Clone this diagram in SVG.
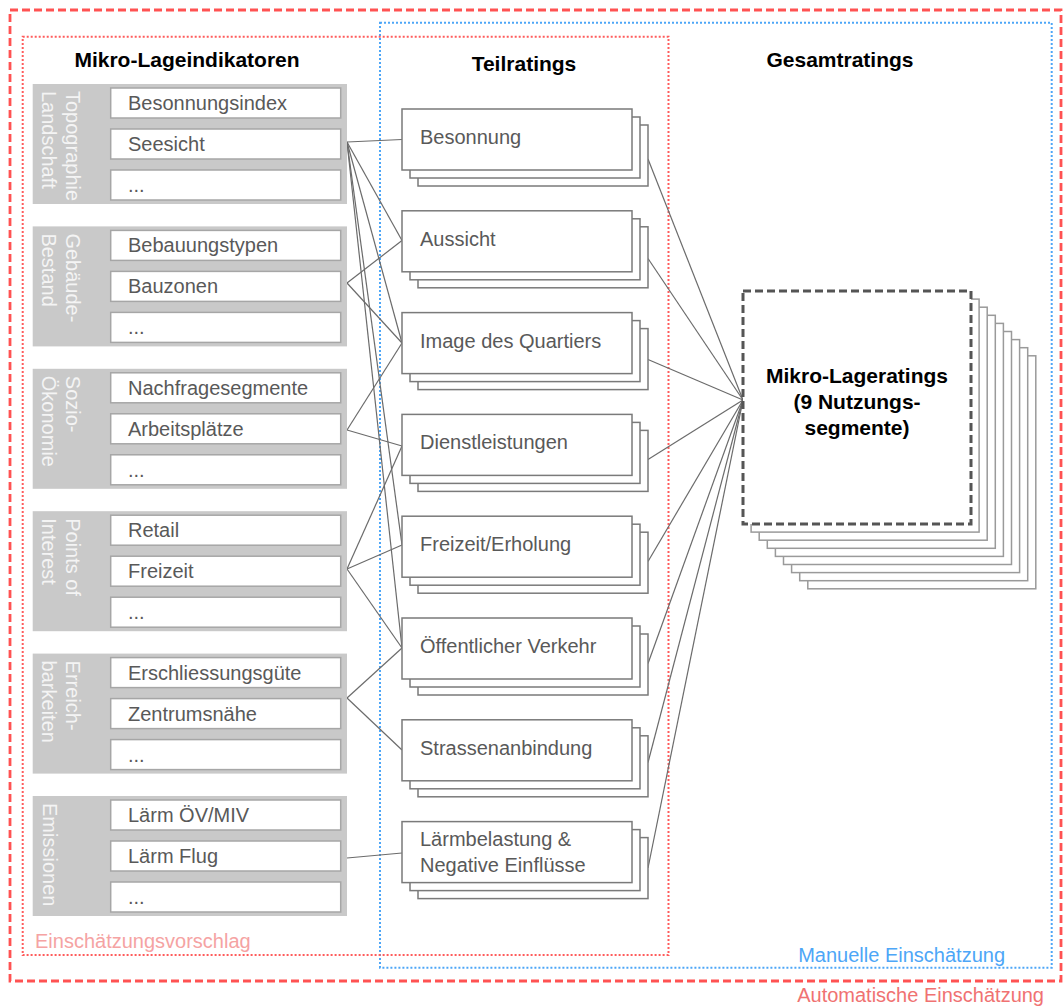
<svg xmlns="http://www.w3.org/2000/svg" width="1064" height="1008" viewBox="0 0 1064 1008">
<style>
text{font-family:"Liberation Sans",Arial,Helvetica,sans-serif}
.grp{fill:#c9c9c9}
.item{fill:#fff;stroke:#a6a6a6;stroke-width:1.5}
.itxt{font-size:20px;fill:#595959}
.vtxt{font-size:20px;fill:#f4f4f4}
.card{fill:#fff;stroke:#7a7a7a;stroke-width:1.5}
.stack{fill:#fff;stroke:#9a9a9a;stroke-width:1.5}
.ttl{font-size:21px;font-weight:bold;fill:#000;text-anchor:middle}
#connectors line{stroke:#6b6b6b;stroke-width:1.2}
</style>
<rect width="1064" height="1008" fill="#fff"/>
<!-- frames -->
<g id="frames" fill="none">
<rect x="10" y="10" width="1051" height="971" stroke="#ff5252" stroke-width="2.8" stroke-dasharray="8 4"/>
<rect x="380" y="22.7" width="671.7" height="945" stroke="#4da6f7" stroke-width="2" stroke-dasharray="2 2"/>
<rect x="22.7" y="36.7" width="645.8" height="918.3" stroke="#ff5c5c" stroke-width="2" stroke-dasharray="2 2"/>
</g>
<text x="35" y="948" style="font-size:20px;fill:#f5a3a3">Einschätzungsvorschlag</text>
<text x="1005" y="962" text-anchor="end" style="font-size:20px;fill:#4da6f7">Manuelle Einschätzung</text>
<text x="1044" y="1002" text-anchor="end" style="font-size:20px;fill:#f07272">Automatische Einschätzung</text>
<!-- titles -->
<text class="ttl" x="187" y="67">Mikro-Lageindikatoren</text>
<text class="ttl" x="524" y="71">Teilratings</text>
<text class="ttl" x="840" y="67">Gesamtratings</text>
<!-- connectors -->
<g id="connectors">
<line x1="347" y1="142" x2="402" y2="139.5"/>
<line x1="347" y1="142" x2="402" y2="240.5"/>
<line x1="347" y1="142" x2="402" y2="343"/>
<line x1="347" y1="142" x2="402" y2="545"/>
<line x1="347" y1="142" x2="402" y2="648"/>
<line x1="347" y1="283" x2="402" y2="240.5"/>
<line x1="347" y1="283" x2="402" y2="343"/>
<line x1="347" y1="430" x2="402" y2="343"/>
<line x1="347" y1="430" x2="402" y2="446"/>
<line x1="347" y1="569" x2="402" y2="446"/>
<line x1="347" y1="569" x2="402" y2="545"/>
<line x1="347" y1="569" x2="402" y2="648"/>
<line x1="347" y1="698" x2="402" y2="648"/>
<line x1="347" y1="698" x2="402" y2="750"/>
<line x1="347" y1="858" x2="402" y2="853"/>
<line x1="648" y1="159" x2="743" y2="400"/>
<line x1="648" y1="258.5" x2="743" y2="400"/>
<line x1="648" y1="359.5" x2="743" y2="400"/>
<line x1="648" y1="459.5" x2="743" y2="400"/>
<line x1="648" y1="561.5" x2="743" y2="400"/>
<line x1="648" y1="663.5" x2="743" y2="400"/>
<line x1="648" y1="762.5" x2="743" y2="400"/>
<line x1="648" y1="868" x2="743" y2="400"/>
</g>
<!-- indicator groups -->
<g id="g-topographie">
<rect class="grp" x="32.7" y="84" width="314.3" height="120"/>
<text class="vtxt" transform="translate(66,91) rotate(90)">Topographie<tspan x="0" dy="24">Landschaft</tspan></text>
<rect class="item" x="110.7" y="88" width="230" height="30"/><text class="itxt" x="128" y="110">Besonnungsindex</text>
<rect class="item" x="110.7" y="129" width="230" height="30"/><text class="itxt" x="128" y="151">Seesicht</text>
<rect class="item" x="110.7" y="170" width="230" height="30"/><text class="itxt" x="128" y="192">...</text>
</g>
<g id="g-gebaeude">
<rect class="grp" x="32.7" y="226.4" width="314.3" height="120"/>
<text class="vtxt" transform="translate(66,233.4) rotate(90)">Gebäude-<tspan x="0" dy="24">Bestand</tspan></text>
<rect class="item" x="110.7" y="230.4" width="230" height="30"/><text class="itxt" x="128" y="252.4">Bebauungstypen</text>
<rect class="item" x="110.7" y="271.4" width="230" height="30"/><text class="itxt" x="128" y="293.4">Bauzonen</text>
<rect class="item" x="110.7" y="312.4" width="230" height="30"/><text class="itxt" x="128" y="334.4">...</text>
</g>
<g id="g-sozio">
<rect class="grp" x="32.7" y="368.8" width="314.3" height="120"/>
<text class="vtxt" transform="translate(66,375.8) rotate(90)">Sozio-<tspan x="0" dy="24">Ökonomie</tspan></text>
<rect class="item" x="110.7" y="372.8" width="230" height="30"/><text class="itxt" x="128" y="394.8">Nachfragesegmente</text>
<rect class="item" x="110.7" y="413.8" width="230" height="30"/><text class="itxt" x="128" y="435.8">Arbeitsplätze</text>
<rect class="item" x="110.7" y="454.8" width="230" height="30"/><text class="itxt" x="128" y="476.8">...</text>
</g>
<g id="g-poi">
<rect class="grp" x="32.7" y="511.2" width="314.3" height="120"/>
<text class="vtxt" transform="translate(66,518.2) rotate(90)">Points of<tspan x="0" dy="24">Interest</tspan></text>
<rect class="item" x="110.7" y="515.2" width="230" height="30"/><text class="itxt" x="128" y="537.2">Retail</text>
<rect class="item" x="110.7" y="556.2" width="230" height="30"/><text class="itxt" x="128" y="578.2">Freizeit</text>
<rect class="item" x="110.7" y="597.2" width="230" height="30"/><text class="itxt" x="128" y="619.2">...</text>
</g>
<g id="g-erreich">
<rect class="grp" x="32.7" y="653.6" width="314.3" height="120"/>
<text class="vtxt" transform="translate(66,660.6) rotate(90)">Erreich-<tspan x="0" dy="24">barkeiten</tspan></text>
<rect class="item" x="110.7" y="657.6" width="230" height="30"/><text class="itxt" x="128" y="679.6">Erschliessungsgüte</text>
<rect class="item" x="110.7" y="698.6" width="230" height="30"/><text class="itxt" x="128" y="720.6">Zentrumsnähe</text>
<rect class="item" x="110.7" y="739.6" width="230" height="30"/><text class="itxt" x="128" y="761.6">...</text>
</g>
<g id="g-emissionen">
<rect class="grp" x="32.7" y="796" width="314.3" height="120"/>
<text class="vtxt" transform="translate(43,803) rotate(90)">Emissionen</text>
<rect class="item" x="110.7" y="800" width="230" height="30"/><text class="itxt" x="128" y="822">Lärm ÖV/MIV</text>
<rect class="item" x="110.7" y="841" width="230" height="30"/><text class="itxt" x="128" y="863">Lärm Flug</text>
<rect class="item" x="110.7" y="882" width="230" height="30"/><text class="itxt" x="128" y="904">...</text>
</g>
<!-- Teilratings cards -->
<g id="t-besonnung">
<rect class="card" x="418" y="125" width="230" height="61"/><rect class="card" x="410" y="117" width="230" height="61"/><rect class="card" x="402" y="109" width="230" height="61"/>
<text class="itxt" x="420" y="144">Besonnung</text>
</g>
<g id="t-aussicht">
<rect class="card" x="418" y="226.8" width="230" height="61"/><rect class="card" x="410" y="218.8" width="230" height="61"/><rect class="card" x="402" y="210.8" width="230" height="61"/>
<text class="itxt" x="420" y="245.8">Aussicht</text>
</g>
<g id="t-image">
<rect class="card" x="418" y="328.6" width="230" height="61"/><rect class="card" x="410" y="320.6" width="230" height="61"/><rect class="card" x="402" y="312.6" width="230" height="61"/>
<text class="itxt" x="420" y="347.6">Image des Quartiers</text>
</g>
<g id="t-dienst">
<rect class="card" x="418" y="430.4" width="230" height="61"/><rect class="card" x="410" y="422.4" width="230" height="61"/><rect class="card" x="402" y="414.4" width="230" height="61"/>
<text class="itxt" x="420" y="449.4">Dienstleistungen</text>
</g>
<g id="t-freizeit">
<rect class="card" x="418" y="532.2" width="230" height="61"/><rect class="card" x="410" y="524.2" width="230" height="61"/><rect class="card" x="402" y="516.2" width="230" height="61"/>
<text class="itxt" x="420" y="551.2">Freizeit/Erholung</text>
</g>
<g id="t-oev">
<rect class="card" x="418" y="634" width="230" height="61"/><rect class="card" x="410" y="626" width="230" height="61"/><rect class="card" x="402" y="618" width="230" height="61"/>
<text class="itxt" x="420" y="653">Öffentlicher Verkehr</text>
</g>
<g id="t-strasse">
<rect class="card" x="418" y="735.8" width="230" height="61"/><rect class="card" x="410" y="727.8" width="230" height="61"/><rect class="card" x="402" y="719.8" width="230" height="61"/>
<text class="itxt" x="420" y="754.8">Strassenanbindung</text>
</g>
<g id="t-laerm">
<rect class="card" x="418" y="837.6" width="230" height="61"/><rect class="card" x="410" y="829.6" width="230" height="61"/><rect class="card" x="402" y="821.6" width="230" height="61"/>
<text class="itxt" x="420" y="846">Lärmbelastung &amp;<tspan x="420" y="871.7">Negative Einflüsse</tspan></text>
</g>
<!-- Gesamtrating -->
<g id="n-mikro-lageratings">
<rect class="stack" x="807.8" y="355.8" width="228" height="233"/>
<rect class="stack" x="799.7" y="347.7" width="228" height="233"/>
<rect class="stack" x="791.6" y="339.6" width="228" height="233"/>
<rect class="stack" x="783.5" y="331.5" width="228" height="233"/>
<rect class="stack" x="775.4" y="323.4" width="228" height="233"/>
<rect class="stack" x="767.3" y="315.3" width="228" height="233"/>
<rect class="stack" x="759.2" y="307.2" width="228" height="233"/>
<rect class="stack" x="751.1" y="299.1" width="228" height="233"/>
<rect x="743" y="291" width="228" height="233" fill="#fff" stroke="#555" stroke-width="3" stroke-dasharray="8 4"/>
<text class="ttl" x="857" y="383">Mikro-Lageratings<tspan x="857" y="409">(9 Nutzungs-</tspan><tspan x="857" y="435">segmente)</tspan></text>
</g>
</svg>
